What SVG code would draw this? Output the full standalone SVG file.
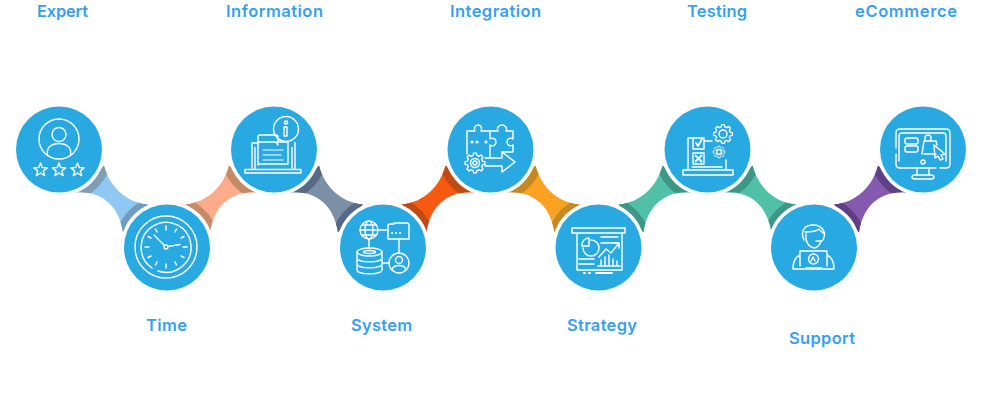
<svg xmlns="http://www.w3.org/2000/svg" xmlns:xlink="http://www.w3.org/1999/xlink" width="1000" height="403" viewBox="0 0 1000 403">
<style>
.disc{fill:#29a9e1}
.ring{fill:#fff}
.shade{fill:none;stroke:#e2e2e2;stroke-width:3}
.i{fill:none;stroke:#fff;stroke-width:1.4;stroke-linecap:round;stroke-linejoin:round;filter:url(#soft)}
.t{font-family:"Inter","Liberation Sans",sans-serif;font-size:16.500px;font-weight:600;fill:#3a9fea;text-anchor:middle}
</style>
<defs>
<filter id="soft" x="-5%" y="-5%" width="110%" height="110%"><feGaussianBlur stdDeviation="0.3"/></filter>
<clipPath id="cb"><path d="M17,43 C42,41 60,56 64,83 L89,55 C66,53 50,36 45,16Z"/></clipPath>
<path id="body" d="M17,43 C42,41 60,56 64,83 L89,55 C66,53 50,36 45,16Z"/>
<polygon id="star" points="0,-7 1.76,-2.43 6.66,-2.16 2.85,.93 4.11,5.66 0,3 -4.11,5.66 -2.85,.93 -6.66,-2.16 -1.76,-2.43"/>
<polygon id="gear" points="7.57,-1.89 9.9,-1.39 9.9,1.39 7.57,1.89 6.69,4.02 7.99,6.02 6.02,7.99 4.02,6.69 1.89,7.57 1.39,9.9 -1.39,9.9 -1.89,7.57 -4.02,6.69 -6.02,7.99 -7.99,6.02 -6.69,4.02 -7.57,1.89 -9.9,1.39 -9.9,-1.39 -7.57,-1.89 -6.69,-4.02 -7.99,-6.02 -6.02,-7.99 -4.02,-6.69 -1.89,-7.57 -1.39,-9.9 1.39,-9.9 1.89,-7.57 4.02,-6.69 6.02,-7.99 7.99,-6.02 6.69,-4.02"/>
</defs>
<g id="connectors">
<g transform="translate(59,149.500)"><use xlink:href="#body" fill="#8fc8f2"/><g clip-path="url(#cb)"><circle r="54" fill="#7f9db4"/><circle cx="108" cy="98" r="53" fill="#6f9dbb"/></g></g>
<g transform="translate(274,149.500) scale(-1,1)"><use xlink:href="#body" fill="#fdab8a"/><g clip-path="url(#cb)"><circle r="54" fill="#c58a66"/><circle cx="107" cy="98" r="53" fill="#c58a66"/></g></g>
<g transform="translate(274,149.500)"><use xlink:href="#body" fill="#7b8fa6"/><g clip-path="url(#cb)"><circle r="54" fill="#566a84"/><circle cx="109" cy="98" r="53" fill="#566a84"/></g></g>
<g transform="translate(490.500,149.500) scale(-1,1)"><use xlink:href="#body" fill="#f55a10"/><g clip-path="url(#cb)"><circle r="54" fill="#c04a14"/><circle cx="107.500" cy="98" r="53" fill="#c04a14"/></g></g>
<g transform="translate(490.500,149.500)"><use xlink:href="#body" fill="#fba223"/><g clip-path="url(#cb)"><circle r="54" fill="#c38a24"/><circle cx="108" cy="98" r="53" fill="#c38a24"/></g></g>
<g transform="translate(707.500,149.500) scale(-1,1)"><use xlink:href="#body" fill="#50c1a7"/><g clip-path="url(#cb)"><circle r="54" fill="#3e9785"/><circle cx="109" cy="98" r="53" fill="#3e9785"/></g></g>
<g transform="translate(707.500,149.500)"><use xlink:href="#body" fill="#50c1a7"/><g clip-path="url(#cb)"><circle r="54" fill="#3e9785"/><circle cx="106.500" cy="98" r="53" fill="#3e9785"/></g></g>
<g transform="translate(923,149.500) scale(-1,1)"><use xlink:href="#body" fill="#8459ae"/><g clip-path="url(#cb)"><circle r="54" fill="#5d4086"/><circle cx="109" cy="98" r="53" fill="#5d4086"/></g></g>
</g>
<g id="node-expert">
<circle class="ring" cx="59" cy="149.500" r="46.500"/><circle class="disc" cx="59" cy="149.500" r="43"/>
<g class="i"><circle cx="59" cy="139" r="20"/><circle cx="59" cy="134.500" r="7"/><path d="M47.500,155 C46,147 52,143.500 59,143.500 C66,143.500 72,147 70.500,155"/>
<use xlink:href="#star" x="40.500" y="170"/><use xlink:href="#star" x="59" y="170"/><use xlink:href="#star" x="77.500" y="170"/></g>
<text class="t" x="62.500" y="17" textLength="51">Expert</text></g>
<g id="node-time">
<path class="shade" d="M205,268 A46,46 0 0 1 186,288"/>
<circle class="ring" cx="167" cy="247.500" r="46.500"/><circle class="disc" cx="167" cy="247.500" r="43"/>
<g class="i"><circle cx="166" cy="247" r="31"/><path d="M152,268 A25,25 0 1 1 158,271"/>
<path d="M166,226v4M166,264v4M145,247h4M183,247h4M155.500,229l1.500,3M176.500,229l-1.500,3M155.500,265l1.500,-3M176.500,265l-1.500,-3M148,236.500l3,1.500M184,236.500l-3,1.500M148,257.500l3,-1.500M184,257.500l-3,-1.500"/>
<circle cx="166" cy="247" r="2"/><path d="M164.500,245.500L154,235M168,246.500L180,244.500"/></g>
<text class="t" x="166.500" y="331" textLength="41">Time</text></g>
<g id="node-information">
<circle class="ring" cx="274" cy="149.500" r="46.500"/><circle class="disc" cx="274" cy="149.500" r="43"/>
<g class="i"><path d="M245,169.500h56v3.500h-56zM252,169.500v-26.500h6M295,169.500v-27M255,169.500v-22M292,169.500v-22"/>
<path d="M258,165v-28q0,-2 2,-2h16q2,0 2,2v5h-0"/><path d="M258,142h18l2,3M278,142h10v22h-30"/>
<path d="M263,150h20M263,155h18M263,160h20" stroke-width="1.200"/>
<circle cx="286" cy="129" r="12.500"/><circle cx="286" cy="122.500" r="1.500"/><path d="M284,127h3v9h-3z"/></g>
<text class="t" x="274.500" y="17" textLength="97">Information</text></g>
<g id="node-system">
<circle class="ring" cx="383" cy="247.500" r="46.500"/><circle class="disc" cx="383" cy="247.500" r="43"/>
<g class="i"><circle cx="369" cy="230" r="9"/><ellipse cx="369" cy="230" rx="4" ry="9"/><path d="M360,230h18M362,225h14M362,235h14"/>
<path d="M378,230h10M369,239v9M399,239v14"/>
<path d="M388,239v-13q0,-2 2,-2h4v-1h13q2,0 2,2v14z"/><path d="M392,233h.1M396,233h.1M400,233h.1" stroke-width="2"/>
<ellipse cx="369.500" cy="252" rx="12.500" ry="4"/><ellipse cx="369.500" cy="252" rx="6" ry="1.500"/><path d="M357,252v18c0,5 25,5 25,0v-18M357,258c0,5 25,5 25,0M357,264c0,5 25,5 25,0"/>
<path d="M382,263h7"/><circle cx="399" cy="263" r="10"/><circle cx="399" cy="260" r="3.500"/><path d="M392,270c1,-6 13,-6 14,0"/></g>
<text class="t" x="381.500" y="331" textLength="61">System</text></g>
<g id="node-integration">
<circle class="ring" cx="490.500" cy="149.500" r="46.500"/><circle class="disc" cx="490.500" cy="149.500" r="43"/>
<g class="i"><path d="M467,154v-23h8c-2,-4 1,-6 3,-6s5,2 3,6h9v8c3,-2 6,0 6,3s-3,5 -6,3v13"/>
<path d="M490,131h8c-2,-4 2,-6 4,-6s6,2 4,6h7v8c-3,-2 -6,0 -6,3s3,5 6,3v7h-11"/>
<path d="M472,142h.1M477,142h.1M486,142h.1" stroke-width="3"/>
<use xlink:href="#gear" x="475" y="163"/><circle cx="475" cy="163" r="4.500"/><circle cx="475" cy="163" r="2"/>
<path d="M485,158h17v-6l13,10l-13,10v-6h-17"/></g>
<text class="t" x="495.500" y="17" textLength="91">Integration</text></g>
<g id="node-strategy">
<circle class="ring" cx="598.500" cy="247.500" r="46.500"/><circle class="disc" cx="598.500" cy="247.500" r="43"/>
<g class="i"><path d="M572,228h53v5h-53zM577,233v37h45v-37"/>
<path d="M591,240a8,8 0 1 1 -8,8"/><path d="M582,246a7,7 0 0 1 7,-8v8z"/><path d="M601,237h17M601,243h17M579,259h15M579,264h15"/>
<path d="M599,257l7,-8l5,4l8,-10M614,243h5v5"/><path d="M601,265v-5M605,265v-8M609,265v-10M613,265v-6M617,265v-4M598,266h22"/>
<path d="M584,273h1M589,273h1M596,273h16" stroke-width="2"/></g>
<text class="t" x="602" y="331" textLength="70">Strategy</text></g>
<g id="node-testing">
<circle class="ring" cx="707.500" cy="149.500" r="46.500"/><circle class="disc" cx="707.500" cy="149.500" r="43"/>
<g class="i"><path d="M683,170h50v5h-50zM688,170v-32h5M726,170v-10M692,167h30"/>
<path d="M693,138h11v11h-11zM693,153h11v11h-11zM704,141h8"/>
<path d="M696,143l2,3l4,-7M695.500,155.500l6,6M701.500,155.500l-6,6" stroke-width="1.800"/>
<use xlink:href="#gear" transform="translate(723,134) scale(.95)"/><circle cx="723" cy="134" r="4"/>
<use xlink:href="#gear" transform="translate(719,152) scale(.6)"/><circle cx="719" cy="152" r="2.500"/></g>
<text class="t" x="717" y="17" textLength="60">Testing</text></g>
<g id="node-support">
<path class="shade" d="M852,268 A46,46 0 0 1 836,288"/>
<circle class="ring" cx="814" cy="247.500" r="46.500"/><circle class="disc" cx="814" cy="247.500" r="43"/>
<g class="i"><path d="M804,240c-4,-8 0,-15 9,-15s14,7 10,15M805,232c5,0 12,-1 14,-3c1,2 3,3 4,4M806,234c-1,8 3,13 8,14c3,0 6,-3 7,-7M822,241h-6"/>
<path d="M800,266v-15h27v15M793,269c0,-6 2,-12 7,-14M834,269c0,-6 -2,-12 -7,-14M793,269h41"/>
<circle cx="813.500" cy="259" r="5"/><path d="M811,261l2,-4l2,4M806,268h16"/></g>
<text class="t" x="822" y="344" textLength="66">Support</text></g>
<g id="node-ecommerce">
<path class="shade" d="M963,168 A46,46 0 0 1 946,189"/>
<circle class="ring" cx="923" cy="149.500" r="46.500"/><circle class="disc" cx="923" cy="149.500" r="43"/>
<g class="i"><path d="M896,148v-15q0,-4 4,-4h46q4,0 4,4v31q0,4 -4,4h-6M936,168h-36q-4,0 -4,-4v-10"/><path d="M899,161v-25q0,-3 3,-3h41q3,0 3,3v25"/>
<circle cx="923" cy="162" r="2"/><path d="M917,168v7M929,168v7M912,177q0,-2 3,-2h16q3,0 3,2q0,2 -3,2h-16q-3,0 -3,-2z"/>
<rect x="905" y="138" width="13" height="6" rx="2"/><rect x="905" y="146" width="13" height="6" rx="2"/>
<path d="M922,154l2,-13h12l1,4M925,141v-3q0,-3 3,-3t3,3v3M924,154h12"/><path d="M934,145l11,9l-4,1l2,4l-3,1l-2,-4l-3,2z"/></g>
<text class="t" x="906" y="17" textLength="102">eCommerce</text></g>
</svg>
